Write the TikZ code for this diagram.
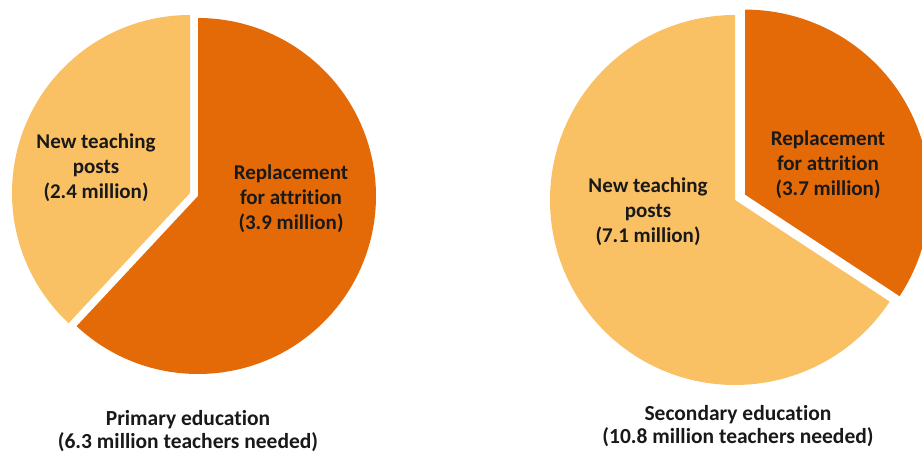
\documentclass[tikz,border=0pt]{standalone}
\usepackage{fontspec}
\setmainfont{Carlito}[Ligatures=NoCommon]
\definecolor{lightor}{RGB}{250,192,100}
\definecolor{darkor}{RGB}{228,106,8}
\begin{document}
\begin{tikzpicture}[x=1pt,y=1pt,
  lbl/.style={align=center,font=\bfseries\fontsize{21}{25}\selectfont,text=black!90,inner sep=0pt},
  captext/.style={align=center,font=\bfseries\fontsize{21.5}{23}\selectfont,text=black!90,inner sep=0pt}]
\useasboundingbox (0,0) rectangle (922,455);
\clip (0,0) rectangle (922,455);
% left pie
\coordinate (lc1) at (190,262);
\coordinate (lc2) at (198,259);
\fill[lightor] (lc1) -- ++(90:178) arc[start angle=90,end angle=227,radius=178] -- cycle;
\fill[darkor] (lc2) -- ++(-133:178) arc[start angle=-133,end angle=90,radius=178] -- cycle;
% right pie
\coordinate (rc1) at (735,255);
\coordinate (rc2) at (745,260.4);
\fill[lightor] (rc1) -- ++(90:185) arc[start angle=90,end angle=326.7,radius=185] -- cycle;
\fill[darkor] (rc2) -- ++(-33.3:185) arc[start angle=-33.3,end angle=90,radius=185] -- cycle;
% labels
\node[lbl] (ln) at (96,287) {New teaching\\posts\\(2.4 million)};
\node[lbl] (lr) at (291,256) {Replacement\\for attrition\\(3.9 million)};
\node[lbl] (rr) at (828,290) {Replacement\\for attrition\\(3.7 million)};
\node[lbl] (rn) at (648,243) {New teaching\\posts\\(7.1 million)};
\node[captext] (lcap) at (188,23.5) {Primary education\\(6.3 million teachers needed)};
\node[captext] (rcap) at (738,29) {Secondary education\\(10.8 million teachers needed)};
\end{tikzpicture}
\end{document}
